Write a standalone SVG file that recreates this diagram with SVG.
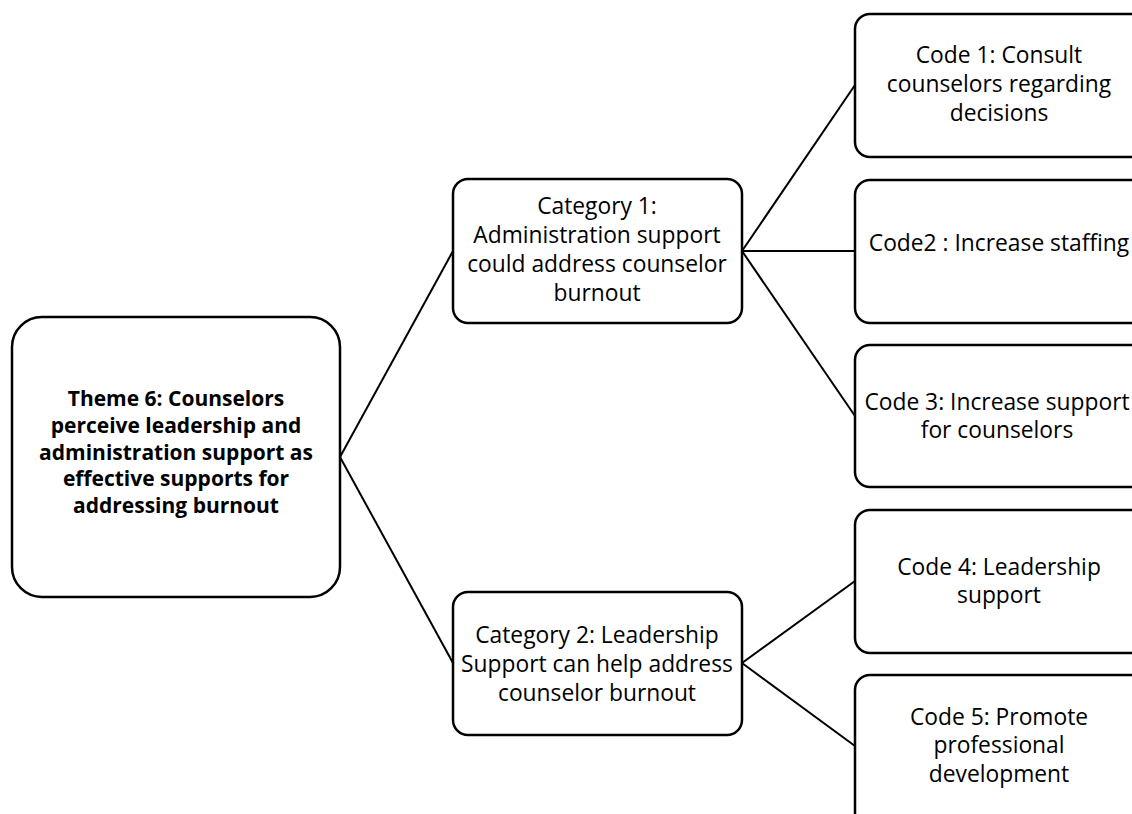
<svg xmlns="http://www.w3.org/2000/svg" width="1132" height="814" viewBox="0 0 1132 814">
<style>
.box{fill:#fff;stroke:#000;stroke-width:2.5}
.t{font-family:"Open Sans",Lato,"Liberation Sans",sans-serif;font-size:22.8px;fill:#000;text-anchor:middle}
.b{font-weight:bold;font-size:21px}
.c{fill:none;stroke:#000;stroke-width:2}
</style>
<rect width="1132" height="814" fill="#fff"/>
<g id="connectors">
<line class="c" x1="340" y1="457" x2="453" y2="251"/>
<line class="c" x1="340" y1="457" x2="453" y2="663"/>
<line class="c" x1="742" y1="251" x2="855" y2="85"/>
<line class="c" x1="742" y1="251" x2="855" y2="251"/>
<line class="c" x1="742" y1="251" x2="855" y2="416"/>
<line class="c" x1="742" y1="663" x2="855" y2="581"/>
<line class="c" x1="742" y1="663" x2="855" y2="746"/>
</g>
<g id="theme">
<rect class="box" x="12" y="317" width="328" height="280" rx="30"/>
<text class="t b" x="176" y="406">Theme 6: Counselors</text>
<text class="t b" x="176" y="433">perceive leadership and</text>
<text class="t b" x="176" y="460">administration support as</text>
<text class="t b" x="176" y="486">effective supports for</text>
<text class="t b" x="176" y="513">addressing burnout</text>
</g>
<g id="cat1">
<rect class="box" x="453" y="179" width="289" height="144" rx="15"/>
<text class="t" x="597" y="214">Category 1:</text>
<text class="t" x="597" y="243">Administration support</text>
<text class="t" x="597" y="272">could address counselor</text>
<text class="t" x="597" y="301">burnout</text>
</g>
<g id="cat2">
<rect class="box" x="453" y="592" width="289" height="143" rx="15"/>
<text class="t" x="597" y="643">Category 2: Leadership</text>
<text class="t" x="597" y="672">Support can help address</text>
<text class="t" x="597" y="701">counselor burnout</text>
</g>
<g id="code1">
<rect class="box" x="855" y="14" width="300" height="143" rx="15"/>
<text class="t" x="999" y="63">Code 1: Consult</text>
<text class="t" x="999" y="92">counselors regarding</text>
<text class="t" x="999" y="121">decisions</text>
</g>
<g id="code2">
<rect class="box" x="855" y="180" width="300" height="143" rx="15"/>
<text class="t" x="999" y="251">Code2 : Increase staffing</text>
</g>
<g id="code3">
<rect class="box" x="855" y="345" width="300" height="142" rx="15"/>
<text class="t" x="997" y="410">Code 3: Increase support</text>
<text class="t" x="997" y="438">for counselors</text>
</g>
<g id="code4">
<rect class="box" x="855" y="510" width="300" height="143" rx="15"/>
<text class="t" x="999" y="575">Code 4: Leadership</text>
<text class="t" x="999" y="603">support</text>
</g>
<g id="code5">
<rect class="box" x="855" y="675" width="300" height="160" rx="15"/>
<text class="t" x="999" y="725">Code 5: Promote</text>
<text class="t" x="999" y="753">professional</text>
<text class="t" x="999" y="782">development</text>
</g>
</svg>
